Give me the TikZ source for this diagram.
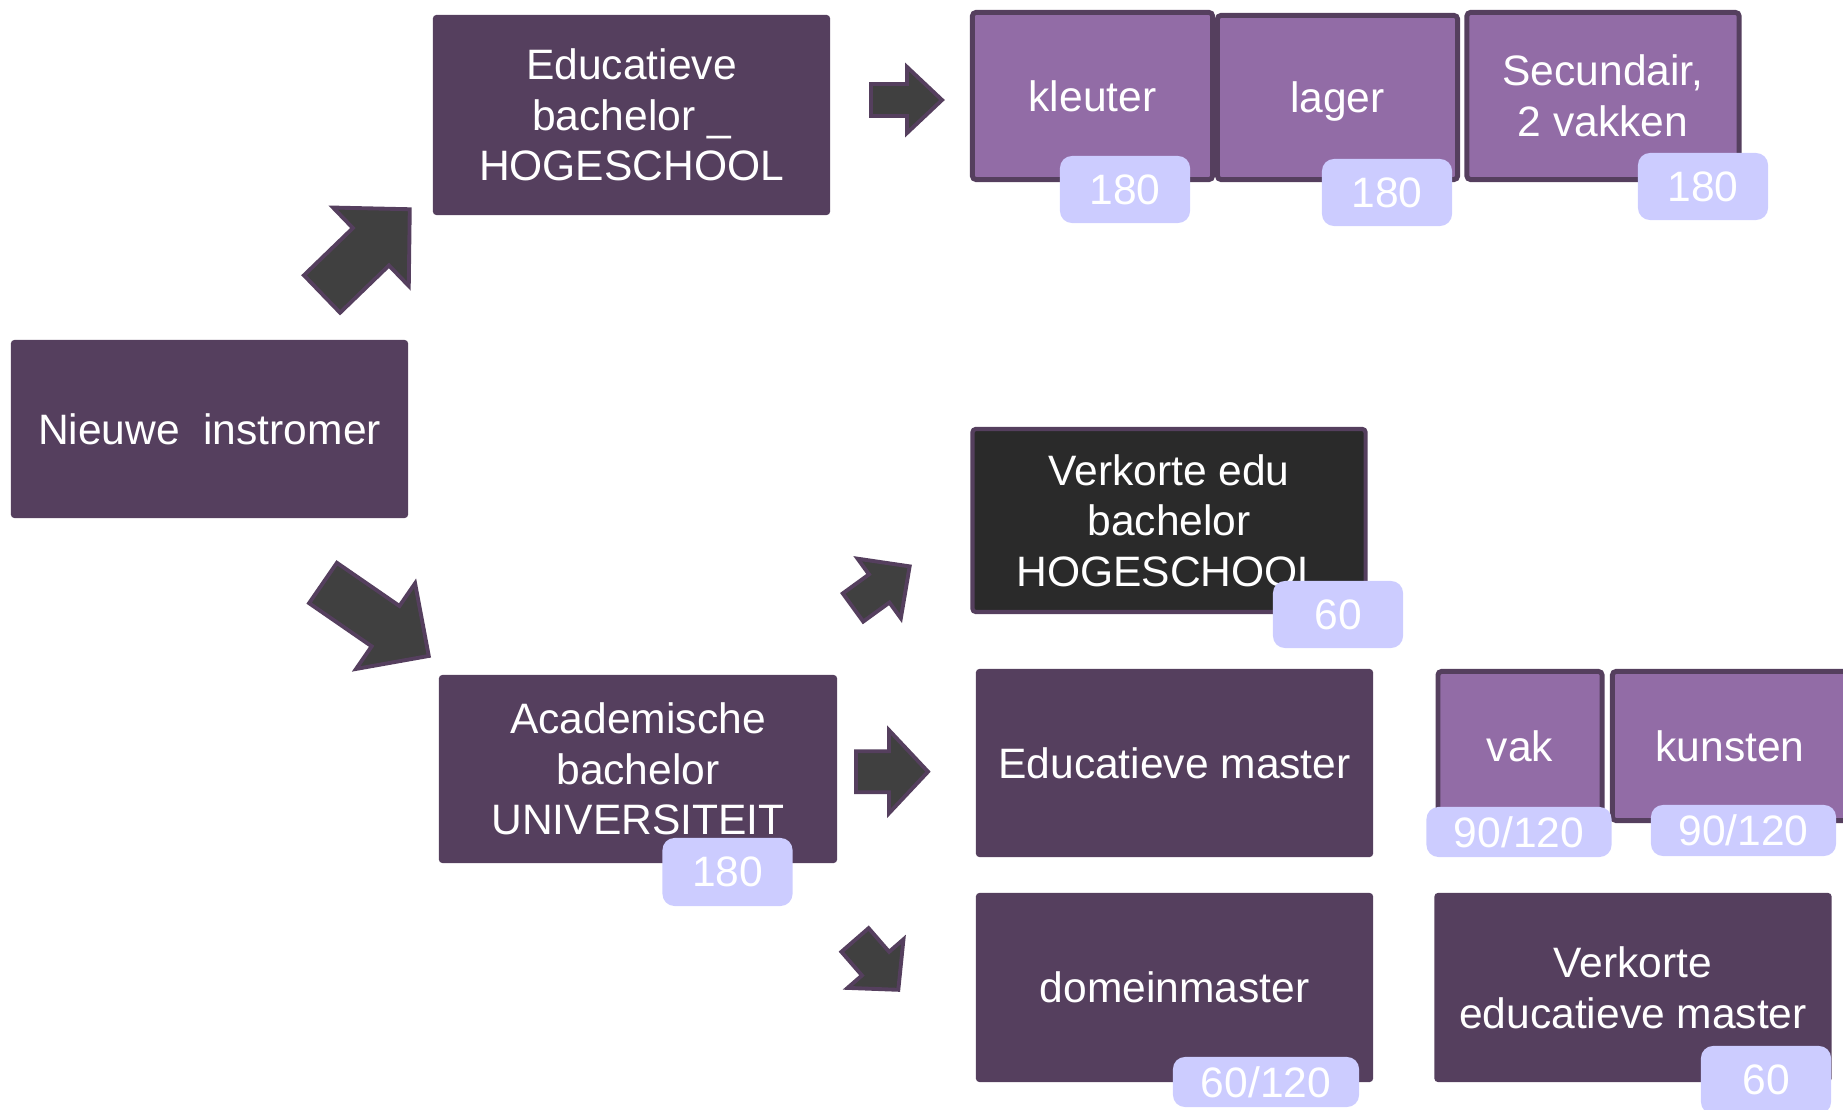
\documentclass[tikz,border=0pt]{standalone}
\usepackage{fontspec}
\setmainfont{Liberation Sans}
\usepackage{tikz}
\usetikzlibrary{calc}
\definecolor{plum}{HTML}{553F5E}
\definecolor{lilac}{HTML}{926CA6}
\definecolor{periwinkle}{HTML}{CCCCFF}
\definecolor{charcoal}{HTML}{2A2A2A}
\definecolor{arrowgrey}{HTML}{404040}

\begin{document}
\begin{tikzpicture}[
        x=0.01cm, y=-0.01cm,
        programme/.style={rectangle, fill=plum, rounded corners=1pt, text=white, align=center, inner sep=0pt, font=\fontsize{12.1}{14.4}\selectfont},
        level/.style={programme, draw=plum, fill=lilac, line width=1.4pt},
        credits/.style={rectangle, fill=periwinkle, rounded corners=0.12cm, text=white, inner sep=0pt, font=\fontsize{12.1}{14.4}\selectfont},
        blockarrow/.style={fill=arrowgrey, draw=plum, line width=1.1pt, line join=miter}
    ]
    \useasboundingbox (0,0) rectangle (1843,1110);
    \clip (0,0) rectangle (1843,1110);

    % block arrows: tail x/y, angle, length, shaft half, head half, head length
    \foreach \tx/\ty/\ang/\len/\sw/\hw/\hl in {322/294/44/122/26/54.5/54, 871/100/0/71/16/33/35,
        323/583/-34.6/128.5/24.5/52/52.5, 853/607.5/36/70/17.4/36.8/37.6,
        856/771.7/0/72/20.5/41.5/39, 855/940/-49/66/18/37/34.7} {
        \draw[blockarrow, shift={(\tx,\ty)}, rotate=\ang] (0,-\sw) -- ({\len-\hl},-\sw) -- ({\len-\hl},-\hw)
            -- (\len,0) -- ({\len-\hl},\hw) -- ({\len-\hl},\sw) -- (0,\sw) -- cycle;
    }

    \node[programme, minimum width=3.97cm, minimum height=1.78cm] (nieuw) at (209.5,429) {Nieuwe\ \ instromer};
    \node[programme, minimum width=3.97cm, minimum height=2.00cm] (edubachelor) at (631.5,115) {Educatieve\\bachelor \_\\HOGESCHOOL};
    \node[programme, minimum width=3.98cm, minimum height=1.88cm] (acabachelor) at (638,769) {Academische\\bachelor\\UNIVERSITEIT};

    % top row: levels of the educational bachelor
    \node[level, minimum width=2.40cm, minimum height=1.67cm] (kleuter) at (1092.5,96) {kleuter};
    \node[level, minimum width=2.40cm, minimum height=1.64cm, text depth=0pt] (lager) at (1337.5,97.5) {lager};
    \node[level, minimum width=2.72cm, minimum height=1.67cm] (secundair) at (1603,96) {Secundair,\\2 vakken};

    \node[programme, fill=charcoal, draw=plum, line width=1.2pt, minimum width=3.93cm, minimum height=1.83cm] (verkbachelor) at (1169,520.5) {Verkorte edu\\bachelor\\HOGESCHOOL};
    \node[programme, minimum width=3.97cm, minimum height=1.88cm] (edumaster) at (1174.5,763) {Educatieve master};
    \node[level, minimum width=1.64cm, minimum height=1.49cm] (vak) at (1520,746) {vak};
    \node[level, minimum width=2.35cm, minimum height=1.49cm] (kunsten) at (1730,746) {kunsten};
    \node[programme, minimum width=3.97cm, minimum height=1.89cm] (domein) at (1174.5,987.5) {domeinmaster};
    \node[programme, minimum width=3.97cm, minimum height=1.89cm] (verkmaster) at (1633,987.5) {Verkorte\\educatieve master};

    % study points
    \node[credits, minimum width=1.30cm, minimum height=0.67cm] (kleuterpt) at (1125,189.5) {180};
    \node[credits, minimum width=1.30cm, minimum height=0.67cm] (lagerpt) at (1387,192.5) {180};
    \node[credits, minimum width=1.30cm, minimum height=0.67cm] (secundairpt) at (1703,186.5) {180};
    \node[credits, minimum width=1.30cm, minimum height=0.68cm] (acabachelorpt) at (727.5,872) {180};
    \node[credits, minimum width=1.30cm, minimum height=0.67cm] (verkbachelorpt) at (1338,614.5) {60};
    \node[credits, minimum width=1.85cm, minimum height=0.50cm] (vakpt) at (1519,832) {90/120};
    \node[credits, minimum width=1.85cm, minimum height=0.51cm] (kunstenpt) at (1743.5,830.5) {90/120};
    \node[credits, minimum width=1.86cm, minimum height=0.50cm] (domeinpt) at (1266,1082) {60/120};
    \node[credits, minimum width=1.30cm, minimum height=0.68cm] (verkmasterpt) at (1766,1080) {60};
\end{tikzpicture}
\end{document}
